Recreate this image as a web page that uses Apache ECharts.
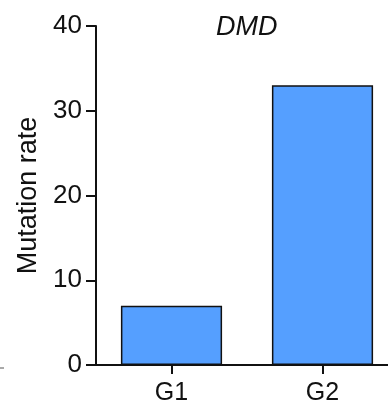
<!DOCTYPE html>
<html>
<head>
<meta charset="utf-8">
<script src="https://cdn.jsdelivr.net/npm/echarts@6/dist/echarts.min.js"></script>
<style>
  html, body { margin: 0; padding: 0; background: #fff; }
  #chart { width: 388px; height: 412px; }
</style>
</head>
<body>
<div id="chart"></div>
<script>
const categories = ["G1", "G2"];
const mutationRate = [7, 33];
const yTicks = [0, 10, 20, 30, 40];

const ink = "#111";
const font = "Liberation Sans, Arial, sans-serif";

const chart = echarts.init(document.getElementById("chart"), null, { renderer: "canvas" });
chart.setOption({
  animation: false,
  title: {
    text: "DMD",
    left: 211,
    top: 9,
    textStyle: { fontFamily: font, fontSize: 27, fontStyle: "italic", fontWeight: "normal", color: ink },
  },
  // the plot runs past the right edge of the picture
  grid: { left: 96, width: 302, top: 26, bottom: 47, outerBoundsMode: "none", containLabel: false },
  xAxis: {
    type: "category",
    data: categories,
    axisLine: { lineStyle: { color: ink, width: 2 } },
    axisTick: { show: true, interval: 0, alignWithLabel: true, length: 9, lineStyle: { color: ink, width: 2 } },
    axisLabel: { fontFamily: font, fontSize: 25, color: ink, margin: 16 },
  },
  yAxis: {
    type: "value",
    min: yTicks[0],
    max: yTicks[yTicks.length - 1],
    interval: 10,
    name: "Mutation rate",
    nameLocation: "middle",
    nameGap: 53,
    nameTextStyle: { fontFamily: font, fontSize: 27, color: ink },
    axisLine: { show: true, lineStyle: { color: ink, width: 2 } },
    axisTick: { show: true, length: 10, lineStyle: { color: ink, width: 2 } },
    axisLabel: { fontFamily: font, fontSize: 26, color: ink, margin: 14 },
    splitLine: { show: false },
  },
  series: [
    {
      type: "bar",
      data: mutationRate,
      barWidth: "67%",
      itemStyle: { color: "#559fff", borderColor: ink, borderWidth: 1.5 },
    },
  ],
  graphic: [
    { type: "line", shape: { x1: 0, y1: 368, x2: 4, y2: 368 }, style: { stroke: "#555", lineWidth: 1 } },
  ],
});
</script>
</body>
</html>
